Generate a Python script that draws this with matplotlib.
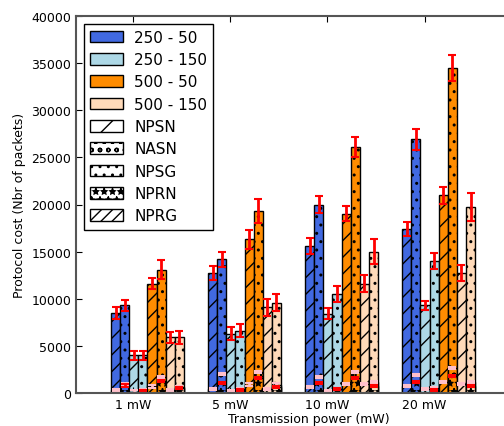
import numpy as np
import matplotlib
matplotlib.use('Agg')
import matplotlib.pyplot as plt
from matplotlib.patches import Patch

powers = ['1 mW', '5 mW', '10 mW', '20 mW']
configs = ['250 - 50', '250 - 150', '500 - 50', '500 - 150']
colors = ['royalblue', 'lightblue', 'darkorange', 'peachpuff']
protocols = ['NPSN', 'NASN', 'NPSG', 'NPRN', 'NPRG']
hatches = ['//', 'oo', '..', '**', '////']
legend_hatches = ['/', 'oo', '..', '**', '///']

# rows = config, cols = transmission power
npsn = [[8500, 12700, 15600, 17400],
        [4000, 6300, 8400, 9300],
        [11600, 16300, 19000, 21000],
        [5900, 9100, 11600, 12700]]
npsn_err = [[600, 750, 800, 700],
            [450, 680, 570, 500],
            [600, 1000, 800, 900],
            [600, 880, 880, 830]]
npsg = [[9300, 14200, 20000, 26900],
        [4000, 6600, 10500, 14000],
        [13100, 19300, 26100, 34500],
        [5900, 9600, 15000, 19700]]
npsg_err = [[550, 800, 850, 1150],
            [450, 700, 830, 880],
            [1000, 1300, 1100, 1400],
            [650, 880, 1300, 1470]]
nasn = [[950, 2000, 1700, 1900],
        [300, 400, 450, 500],
        [1700, 2200, 2260, 2650],
        [640, 900, 1160, 1160]]
nprn = [[800, 1060, 1060, 1160],
        [250, 300, 400, 350],
        [1300, 1560, 1600, 1840],
        [500, 600, 740, 740]]
nprg = [[350, 400, 640, 780],
        [150, 250, 250, 420],
        [700, 900, 950, 1160],
        [350, 420, 950, 950]]
small_err = 120

fig = plt.figure(figsize=(5.04, 4.27), dpi=100)
ax = fig.add_axes([76 / 504, 33 / 427, 465 / 504, 377 / 427])

ind = np.arange(len(powers))
width = 0.094
start = -0.23
ekw = dict(ecolor='red', elinewidth=2, capsize=3, capthick=1.5)
pkw = dict(ecolor='pink', elinewidth=2, capsize=3, capthick=1.5)

for c in range(len(configs)):
    xl = ind + start + width * (2 * c + 0.5)
    xr = ind + start + width * (2 * c + 1.5)
    # left slot: NPSN with NPRG on top
    ax.bar(xl, npsn[c], width, color=colors[c], edgecolor='k', linewidth=1,
           hatch=hatches[0], yerr=npsn_err[c], error_kw=ekw)
    ax.bar(xl, nprg[c], width, color=colors[c], edgecolor='k', linewidth=1,
           hatch=hatches[4], yerr=small_err, error_kw=pkw)
    # right slot: NPSG with NASN and NPRN on top
    ax.bar(xr, npsg[c], width, color=colors[c], edgecolor='k', linewidth=1,
           hatch=hatches[2], yerr=npsg_err[c], error_kw=ekw)
    ax.bar(xr, nasn[c], width, color=colors[c], edgecolor='k', linewidth=1,
           hatch=hatches[1], yerr=small_err, error_kw=pkw)
    ax.bar(xr, nprn[c], width, color=colors[c], edgecolor='k', linewidth=1,
           hatch=hatches[3], yerr=small_err, error_kw=ekw)

ax.set_xlim(-0.59, 4.2)
ax.set_ylim(0, 40000)
ax.set_yticks(np.arange(0, 40001, 5000))
ax.set_xticks(ind)
ax.set_xticklabels(powers)
ax.tick_params(direction='in', top=True, right=True, labelsize=9, length=4)
for s in ax.spines.values():
    s.set_color('#555555')
    s.set_linewidth(1.5)
ax.set_xlabel('Transmission power (mW)', fontsize=9, labelpad=1)
ax.set_ylabel('Protocol cost (Nbr of packets)', fontsize=9)

handles = [Patch(facecolor=col, edgecolor='k') for col in colors]
handles += [Patch(facecolor='white', edgecolor='k', hatch=h) for h in legend_hatches]
ax.legend(handles, configs + protocols, loc='upper left', fontsize=11,
          handlelength=2.2, handleheight=0.8, labelspacing=0.48,
          handletextpad=0.7, fancybox=False, edgecolor='k', framealpha=1)

fig.savefig('out.png', dpi=100)
